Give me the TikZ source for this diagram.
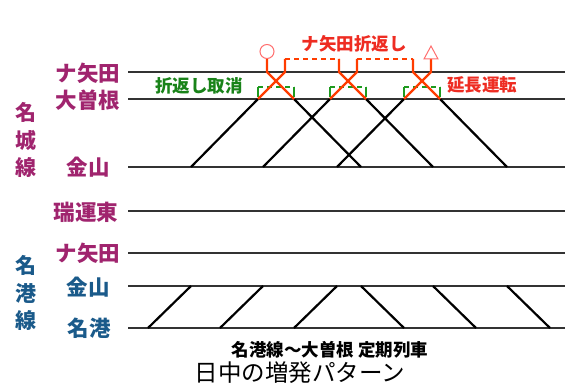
\documentclass[tikz,border=0pt]{standalone}
\usepackage{fontspec}
\setmainfont{Noto Sans CJK JP}
\usetikzlibrary{calc}
\definecolor{linegray}{HTML}{333333}
\definecolor{meijo}{HTML}{A0246E}
\definecolor{meiko}{HTML}{1A5A8A}
\definecolor{orred}{HTML}{FF3C00}
\definecolor{txtred}{HTML}{EE2C22}
\definecolor{lightred}{HTML}{FF6E6E}
\definecolor{grn}{HTML}{1E9A1E}
\tikzset{
  track/.style={draw=linegray,line width=1.5pt},
  train/.style={draw=black,line width=2.2pt},
  redtrain/.style={draw=orred,line width=2.2pt},
  reddash/.style={draw=orred,line width=2.2pt,dash pattern=on 5pt off 4pt},
  grnsolid/.style={draw=grn,line width=1.7pt},
  grndash/.style={draw=grn,line width=1.7pt,dash pattern=on 5pt off 4pt},
  marker/.style={draw=lightred,line width=1pt},
  stn/.style={inner sep=0pt,font=\fontsize{21.5}{21.5}\selectfont\bfseries},
  linelab/.style={inner sep=0pt,align=center,font=\fontsize{21}{27.5}\selectfont\bfseries},
  note/.style={inner sep=0pt,font=\fontsize{17.5}{17.5}\selectfont\bfseries},
}
\begin{document}
\begin{tikzpicture}[x=1pt,y=-1pt]
\useasboundingbox (0,0) rectangle (570,390);
% track lines
\foreach \nm/\yy in {na/72,oz/99,ka/167,zu/211,nb/253,kb/286,mk/328}{
  \coordinate (\nm L) at (128,\yy);
  \coordinate (\nm R) at (565,\yy);
  \draw[track] (\nm L) -- (\nm R);
}
% station labels
\node[stn,text=meijo] (s1) at (88,73) {ナ矢田};
\node[stn,text=meijo] (s2) at (88,100) {大曽根};
\node[stn,text=meijo] (s3) at (88,167) {金山};
\node[stn,text=meijo] (s4) at (86,212) {瑞運東};
\node[stn,text=meijo] (s5) at (88,253) {ナ矢田};
\node[stn,text=meiko] (s6) at (88,287) {金山};
\node[stn,text=meiko] (s7) at (89,328) {名港};
\node[linelab,text=meijo] (l1) at (26,140) {名\\城\\線};
\node[linelab,text=meiko] (l2) at (26,293) {名\\港\\線};
% up trains (Meiko -> Kanayama -> Ozone)
\foreach \i/\k in {1/191,2/263,3/337}{
  \coordinate (um\i) at ($(\k,328)+(-43,0)$);
  \coordinate (uk\i) at (\k,286);
  \coordinate (uc\i) at (\k,167);
  \coordinate (uo\i) at ($(\k,99)+(67,0)$);
  \draw[train] (um\i) -- (uk\i);
  \draw[train] (uc\i) -- (uo\i);
}
% down trains (Ozone -> Kanayama -> Meiko)
\foreach \i/\k in {1/361,2/433,3/507}{
  \coordinate (do\i) at ($(\k,99)+(-67,0)$);
  \coordinate (dc\i) at (\k,167);
  \coordinate (dk\i) at (\k,286);
  \coordinate (dm\i) at ($(\k,328)+(43,0)$);
  \draw[train] (do\i) -- (dc\i);
  \draw[train] (dk\i) -- (dm\i);
}
% green brackets (cancelled turnbacks)
\foreach \i in {1,2,3}{
  \coordinate (ga\i) at ($(uo\i)+(0,-2)$);
  \coordinate (gb\i) at ($(uo\i)+(0,-12)$);
  \coordinate (gc\i) at ($(do\i)+(0,-12)$);
  \coordinate (gd\i) at ($(do\i)+(0,-2)$);
  \draw[grnsolid] (ga\i) -- (gb\i);
  \draw[grnsolid] (gc\i) -- (gd\i);
  \draw[grndash] (gb\i) -- (gc\i);
}
% red extensions
\foreach \i in {1,2,3}{
  \coordinate (ut\i) at ($(uo\i)+(27,-27)$);
  \coordinate (us\i) at ($(uo\i)+(27,-40)$);
  \coordinate (dt\i) at ($(do\i)+(-27,-27)$);
  \coordinate (ds\i) at ($(do\i)+(-27,-40)$);
  \draw[redtrain,line join=miter] (uo\i) -- (ut\i) -- (us\i);
  \draw[redtrain,line join=miter] (do\i) -- (dt\i) -- (ds\i);
}
\draw[reddash] (us1) -- (ds2);
\draw[reddash] (us2) -- (ds3);
% start / end markers
\node[marker,circle,minimum size=14pt,inner sep=0pt,anchor=south] (circ) at (ds1) {};
\coordinate (tapex) at ($(us3)+(0,-13)$);
\coordinate (tbl) at ($(us3)+(-7,0)$);
\coordinate (tbr) at ($(us3)+(7,0)$);
\draw[marker,line join=miter] (tbl) -- (tapex) -- (tbr) -- cycle;
% notes
\node[note,text=txtred] (n1) at (354,44) {ナ矢田折返し};
\node[note,text=grn!85!black] (n2) at (199,86) {折返し取消};
\node[note,text=txtred] (n3) at (482,85) {延長運転};
\node[inner sep=0pt,font=\fontsize{17.5}{17.5}\selectfont\bfseries] (n4) at (330,350) {名港線〜大曽根 定期列車};
\node[inner sep=0pt,font=\fontsize{23.5}{23.5}\selectfont] (n5) at (300,373) {日中の増発パターン};
\end{tikzpicture}
\end{document}
